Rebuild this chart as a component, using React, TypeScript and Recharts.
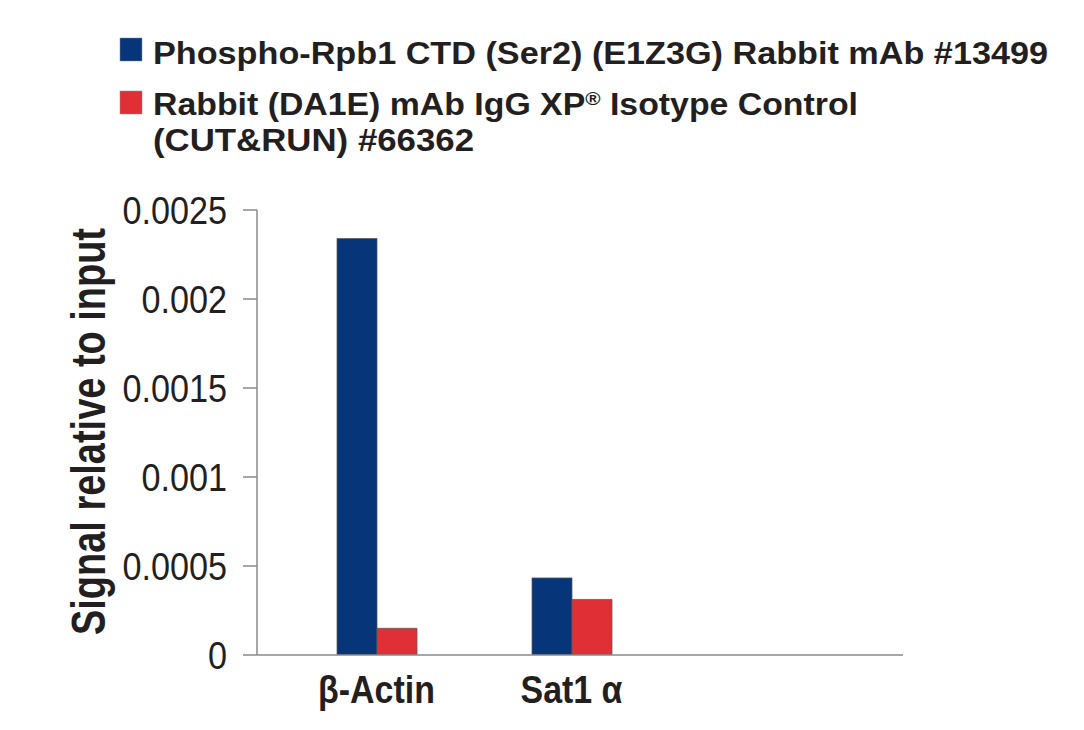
import React from "react";
import { BarChart, Bar, XAxis, YAxis, Label } from "recharts";

const categories = ["β-Actin", "Sat1 α"];
const phosphoValues = [0.00234, 0.000433];
const isotypeValues = [0.00015, 0.000312];
const yTicks = [0, 0.0005, 0.001, 0.0015, 0.002, 0.0025];
const seriesNames = [
  "Phospho-Rpb1 CTD (Ser2) (E1Z3G) Rabbit mAb #13499",
  "Rabbit (DA1E) mAb IgG XP® Isotype Control (CUT&RUN) #66362",
];
const yAxisTitle = "Signal relative to input";
const seriesColors = ["#06357a", "#e03035"];

const data = categories.map((c, i) => ({
  name: c,
  phospho: phosphoValues[i],
  isotype: isotypeValues[i],
}));

const FONT = "'Liberation Sans', Arial, sans-serif";
const INK = "#231f20";

const YLabel = (props: any) => {
  const vb = props.viewBox || {};
  const cx = (vb.x || 0) + 105;
  const cy = (vb.y || 0) + (vb.height || 0) / 2 - 1;
  return (
    <text
      x={cx}
      y={cy}
      transform={`rotate(-90, ${cx}, ${cy})`}
      textAnchor="middle"
      fontFamily={FONT}
      fontWeight="bold"
      fontSize={48}
      fill={INK}
      textLength={407}
      lengthAdjust="spacingAndGlyphs"
    >
      {yAxisTitle}
    </text>
  );
};

const YTick = (props: any) => {
  const { x, y, payload } = props;
  return (
    <g transform={`translate(${x},${y})`}>
      <text
        transform="scale(0.9,1)"
        textAnchor="end"
        dy="0.355em"
        fontFamily={FONT}
        fontSize={38}
        fill={INK}
      >
        {String(payload.value)}
      </text>
    </g>
  );
};

const XTick = (props: any) => {
  const { x, y, payload } = props;
  return (
    <g transform={`translate(${x},${y})`}>
      <text
        transform="scale(0.87,1)"
        textAnchor="middle"
        dy="0.71em"
        fontFamily={FONT}
        fontWeight="bold"
        fontSize={39}
        fill={INK}
      >
        {payload.value}
      </text>
    </g>
  );
};

const LegendOverlay = () => {
  const line1 = seriesNames[0];
  const name2 = seriesNames[1];
  const splitAt = name2.indexOf(" (CUT");
  const l2 = name2.slice(0, splitAt);
  const l3 = name2.slice(splitAt + 1);
  const regIdx = l2.indexOf("®");
  const l2a = l2.slice(0, regIdx);
  const l2b = l2.slice(regIdx + 1);
  const common = {
    fontFamily: FONT,
    fontWeight: "bold" as const,
    fontSize: 31,
    fill: INK,
    lengthAdjust: "spacingAndGlyphs" as const,
  };
  return (
    <svg
      width={1084}
      height={180}
      style={{ position: "absolute", left: 0, top: 0 }}
    >
      <rect x={120} y={38} width={22} height={23} fill={seriesColors[0]} stroke="#8a8a8a" strokeWidth={0.5} />
      <text x={153} y={64} textLength={895} {...common}>
        {line1}
      </text>
      <rect x={120} y={91} width={22} height={23} fill={seriesColors[1]} stroke="#8a8a8a" strokeWidth={0.5} />
      <text x={153} y={115} textLength={705} {...common}>
        {l2a}
        <tspan fontSize={19} dy={-10}>®</tspan>
        <tspan dy={10}>{l2b}</tspan>
      </text>
      <text x={153} y={151} textLength={321} {...common}>
        {l3}
      </text>
    </svg>
  );
};

export default function App() {
  return (
    <div style={{ position: "relative", width: 1084, height: 730, margin: -8, background: "#fff" }}>
      <BarChart
        width={1084}
        height={730}
        data={data}
        margin={{ top: 210, right: 181, bottom: 0, left: 0 }}
        barGap={0}
      >
        <XAxis
          dataKey="name"
          height={75}
          padding={{ left: 22, right: 234 }}
          tickLine={false}
          tickSize={0}
          tickMargin={20}
          axisLine={{ stroke: "#8a8a8a", strokeWidth: 1.5 }}
          tick={<XTick />}
          interval={0}
        />
        <YAxis
          width={257}
          domain={[0, 0.0025]}
          ticks={yTicks}
          tickSize={14}
          tickMargin={16}
          axisLine={{ stroke: "#8a8a8a", strokeWidth: 1.5 }}
          tickLine={{ stroke: "#8a8a8a", strokeWidth: 1.5 }}
          tick={<YTick />}
          allowDataOverflow
        >
          <Label content={<YLabel />} />
        </YAxis>
        <Bar
          dataKey="phospho"
          name={seriesNames[0]}
          fill={seriesColors[0]}
          stroke="#5a5a5a"
          strokeWidth={0.75}
          barSize={40}
          isAnimationActive={false}
        />
        <Bar
          dataKey="isotype"
          name={seriesNames[1]}
          fill={seriesColors[1]}
          stroke="#5a5a5a"
          strokeWidth={0.75}
          barSize={40}
          isAnimationActive={false}
        />
      </BarChart>
      <LegendOverlay />
    </div>
  );
}
